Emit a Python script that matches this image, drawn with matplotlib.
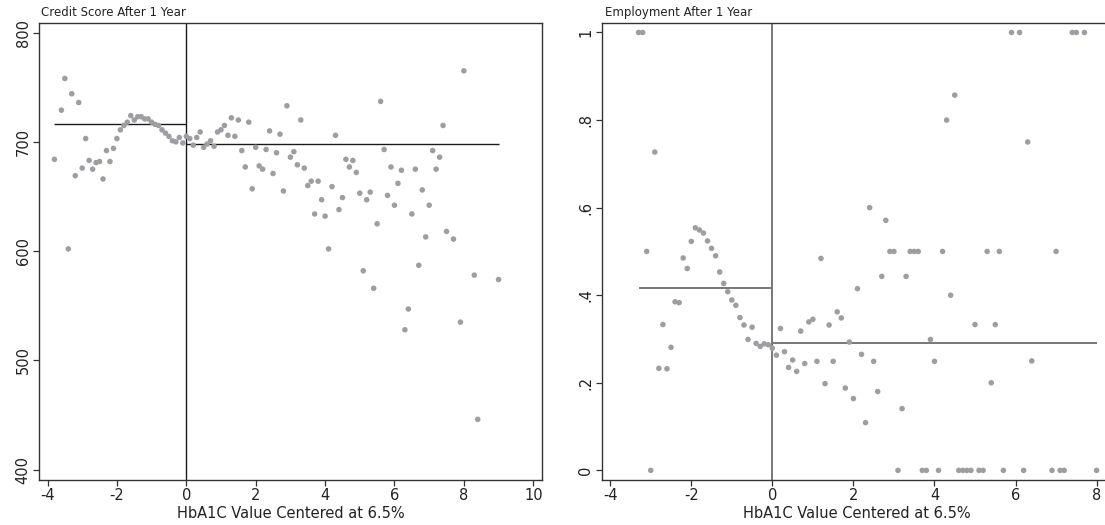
import matplotlib
matplotlib.use("Agg")
import matplotlib.pyplot as plt

# Credit score after 1 year, binned by centered HbA1C
cs_x = [-3.8, -3.6, -3.5, -3.4, -3.3, -3.2, -3.1, -3.0, -2.9, -2.8, -2.7, -2.6,
        -2.5, -2.4, -2.3, -2.2, -2.1, -2.0, -1.9, -1.8, -1.7, -1.6, -1.5, -1.4,
        -1.3, -1.2, -1.1, -1.0, -0.9, -0.8, -0.7, -0.6, -0.5, -0.4, -0.3, -0.2,
        -0.1, 0.0, 0.1, 0.2, 0.3, 0.4, 0.5, 0.6, 0.7, 0.8, 0.9, 1.0, 1.1, 1.2,
        1.3, 1.4, 1.5, 1.6, 1.7, 1.8, 1.9, 2.0, 2.1, 2.2, 2.3, 2.4, 2.5, 2.6,
        2.7, 2.8, 2.9, 3.0, 3.1, 3.2, 3.3, 3.4, 3.5, 3.6, 3.7, 3.8, 3.9, 4.0,
        4.1, 4.2, 4.3, 4.4, 4.5, 4.6, 4.7, 4.8, 4.9, 5.0, 5.1, 5.2, 5.3, 5.4,
        5.5, 5.6, 5.7, 5.8, 5.9, 6.0, 6.1, 6.2, 6.3, 6.4, 6.5, 6.6, 6.7, 6.8,
        6.9, 7.0, 7.1, 7.2, 7.3, 7.4, 7.5, 7.7, 7.9, 8.0, 8.3, 8.4, 9.0]
cs_y = [684, 729, 758, 602, 744, 669, 736, 676, 703, 683, 675, 681,
        682, 666, 692, 682, 694, 703, 711, 715, 718, 724, 720, 723,
        723, 721, 721, 718, 716, 715, 711, 708, 705, 701, 700, 704,
        699, 705, 703, 697, 704, 709, 695, 698, 701, 696, 709, 711, 715, 706,
        722, 705, 720, 692, 677, 718, 657, 695, 678, 675, 693, 710, 671, 690,
        707, 655, 733, 686, 691, 679, 720, 676, 660, 664, 634, 664, 647, 632,
        602, 659, 706, 638, 649, 684, 677, 683, 672, 653, 582, 647, 654, 566,
        625, 737, 693, 651, 677, 642, 662, 674, 528, 547, 634, 675, 587, 656,
        613, 642, 692, 675, 686, 715, 618, 611, 535, 765, 578, 446, 574]
cs_mean_left = 716.5
cs_mean_right = 698.2
cs_left_start = -3.8
cs_right_end = 9.0

# Employment after 1 year
emp_x = [-3.3, -3.2, -3.1, -3.0, -2.9, -2.8, -2.7, -2.6, -2.5, -2.4, -2.3, -2.2,
         -2.1, -2.0, -1.9, -1.8, -1.7, -1.6, -1.5, -1.4, -1.3, -1.2, -1.1, -1.0,
         -0.9, -0.8, -0.7, -0.6, -0.5, -0.4, -0.3, -0.2, -0.1, 0.0, 0.1, 0.2,
         0.3, 0.4, 0.5, 0.6, 0.7, 0.8, 0.9, 1.0, 1.1, 1.2, 1.3, 1.4, 1.5, 1.6,
         1.7, 1.8, 1.9, 2.0, 2.1, 2.2, 2.3, 2.4, 2.5, 2.6, 2.7, 2.8, 2.9, 3.0,
         3.1, 3.2, 3.3, 3.4, 3.5, 3.6, 3.7, 3.8, 3.9, 4.0, 4.1, 4.2, 4.3, 4.4,
         4.5, 4.6, 4.7, 4.8, 4.9, 5.0, 5.1, 5.2, 5.3, 5.4, 5.5, 5.6, 5.7, 5.9,
         6.1, 6.2, 6.3, 6.4, 6.9, 7.0, 7.1, 7.2, 7.4, 7.5, 7.7, 8.0]
emp_y = [1.0, 1.0, 0.5, 0.0, 0.727, 0.233, 0.333, 0.232, 0.281, 0.385, 0.383, 0.485,
         0.461, 0.523, 0.554, 0.549, 0.542, 0.524, 0.507, 0.490, 0.453, 0.427, 0.408, 0.389,
         0.377, 0.349, 0.332, 0.299, 0.327, 0.290, 0.283, 0.289, 0.287, 0.279, 0.263, 0.324,
         0.271, 0.235, 0.252, 0.226, 0.318, 0.244, 0.339, 0.345, 0.249, 0.484, 0.198, 0.332,
         0.249, 0.362, 0.348, 0.188, 0.293, 0.164, 0.415, 0.265, 0.109, 0.600, 0.249, 0.180,
         0.443, 0.571, 0.5, 0.5, 0.0, 0.141, 0.443, 0.5, 0.5, 0.5, 0.0, 0.0,
         0.299, 0.249, 0.0, 0.5, 0.8, 0.4, 0.857, 0.0, 0.0, 0.0, 0.0, 0.333,
         0.0, 0.0, 0.5, 0.2, 0.333, 0.5, 0.0, 1.0, 1.0, 0.0, 0.75, 0.25,
         0.0, 0.5, 0.0, 0.0, 1.0, 1.0, 1.0, 0.0]
emp_mean_left = 0.416
emp_mean_right = 0.290
emp_left_start = -3.3
emp_right_end = 8.0

cs_xticks = [-4, -2, 0, 2, 4, 6, 8, 10]
cs_xticklabels = ["-4", "-2", "0", "2", "4", "6", "8", "10"]
cs_yticks = [400, 500, 600, 700, 800]
cs_yticklabels = ["400", "500", "600", "700", "800"]
emp_xticks = [-4, -2, 0, 2, 4, 6, 8]
emp_xticklabels = ["-4", "-2", "0", "2", "4", "6", "8"]
emp_yticks = [0, 0.2, 0.4, 0.6, 0.8, 1.0]
emp_yticklabels = ["0", ".2", ".4", ".6", ".8", "1"]

W, H = 1105, 525
dot_col = "#9e9ea2"
fs = 10.5

fig = plt.figure(figsize=(W / 100, H / 100), dpi=100)
ax1 = fig.add_axes([39 / W, 1 - 480 / H, (542.3 - 39) / W, (480 - 23.3) / H])
# right panel runs off the image edge, as in the reference
ax2 = fig.add_axes([601.7 / W, 1 - 480 / H, (1112 - 601.7) / W, (480 - 23.3) / H])


def style(ax, xticks, xlabs, yticks, ylabs):
    for s in ax.spines.values():
        s.set_linewidth(1.0)
        s.set_color("#333333")
    ax.set_xticks(xticks)
    ax.set_xticklabels(xlabs, fontsize=fs, color="#222222")
    ax.set_yticks(yticks)
    ax.set_yticklabels(ylabs, fontsize=fs, color="#222222", rotation=90, va="center")
    ax.tick_params(direction="out", length=4, width=0.9, color="#333333", pad=2)
    ax.set_xlabel("HbA1C Value Centered at 6.5%", fontsize=fs, color="#222222", labelpad=2)


# left panel
ax1.scatter(cs_x, cs_y, s=16, color=dot_col, edgecolors="none", zorder=3)
ax1.axvline(0, color="#1a1a1a", lw=1.0, zorder=2)
ax1.hlines(cs_mean_left, cs_left_start, 0, color="#1a1a1a", lw=1.0, zorder=2)
ax1.hlines(cs_mean_right, 0, cs_right_end, color="#1a1a1a", lw=1.0, zorder=2)
ax1.set_xlim(-4.245, 10.26)
ax1.set_ylim(390.5, 808.5)
style(ax1, cs_xticks, cs_xticklabels, cs_yticks, cs_yticklabels)

# right panel
ax2.scatter(emp_x, emp_y, s=16, color=dot_col, edgecolors="none", zorder=3)
ax2.axvline(0, color="#777777", lw=1.4, zorder=2)
ax2.hlines(emp_mean_left, emp_left_start, 0, color="#777777", lw=1.4, zorder=2)
ax2.hlines(emp_mean_right, 0, emp_right_end, color="#777777", lw=1.4, zorder=2)
ax2.set_xlim(-4.21, 8.38)
ax2.set_ylim(-0.022, 1.021)
style(ax2, emp_xticks, emp_xticklabels, emp_yticks, emp_yticklabels)

fig.text(41 / W, 1 - 16 / H, "Credit Score After 1 Year", fontsize=8.5, color="#222222")
fig.text(605 / W, 1 - 16 / H, "Employment After 1 Year", fontsize=8.5, color="#222222")

fig.savefig("out.png", dpi=100)
